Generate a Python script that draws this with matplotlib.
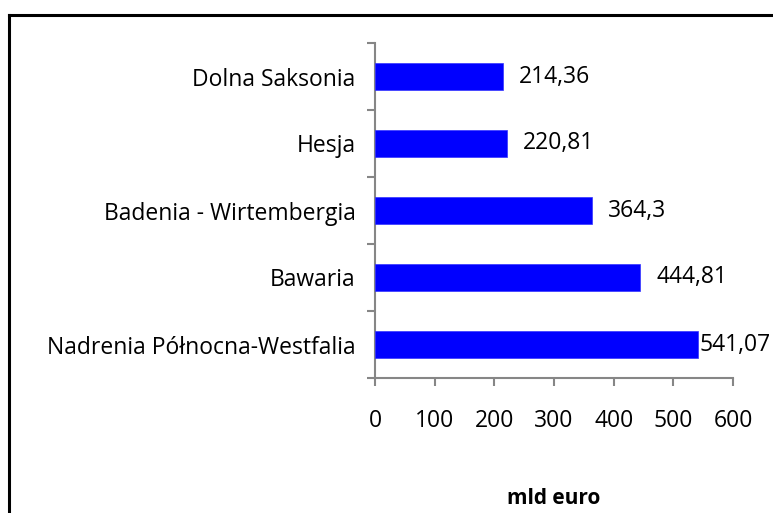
import matplotlib
matplotlib.use("Agg")
import matplotlib.pyplot as plt
from matplotlib.lines import Line2D
import numpy as np

categories = ["Nadrenia Północna-Westfalia", "Bawaria", "Badenia - Wirtembergia", "Hesja", "Dolna Saksonia"]
values = [541.07, 444.81, 364.3, 220.81, 214.36]
value_labels = ["541,07", "444,81", "364,3", "220,81", "214,36"]
xticks = [0, 100, 200, 300, 400, 500, 600]
xlabel = "mld euro"

plt.rcParams['font.family'] = ['Open Sans', 'DejaVu Sans']

W, H = 773, 513
fig = plt.figure(figsize=(W / 100, H / 100), dpi=100)
ax = fig.add_axes([375 / W, 1 - 378 / H, (733 - 375) / W, (378 - 43) / H])

y = np.arange(len(categories))
ax.barh(y, values, height=0.4, color="#0000FF", edgecolor="#3333FF", linewidth=0.5, zorder=3)

FS = 16.5
ax.set_xlim(0, 600)
ax.set_ylim(-0.5, len(categories) - 0.5)
ax.set_xticks(xticks)
ax.set_xticklabels([str(t) for t in xticks], fontsize=FS)
ax.set_yticks(y)
ax.set_yticklabels(categories, fontsize=FS)
ax.tick_params(axis='y', which='major', length=0, pad=14)
ax.set_yticks(np.arange(-0.5, len(categories), 1), minor=True)
ax.tick_params(axis='y', which='minor', length=6, width=1.5, color="#868686", direction='out')
ax.tick_params(axis='x', which='major', length=6, width=1.5, color="#868686", direction='out', pad=16)

for s in ["top", "right"]:
    ax.spines[s].set_visible(False)
for s in ["left", "bottom"]:
    ax.spines[s].set_color("#868686")
    ax.spines[s].set_linewidth(1.5)

offsets = [2, 16, 16, 16, 16]
for yi, v, lab, off in zip(y, values, value_labels, offsets):
    ax.annotate(lab, xy=(v, yi), xytext=(off, 0), textcoords="offset pixels",
                ha="left", va="center", fontsize=FS, color="black", annotation_clip=False)

ax.set_xlabel(xlabel, fontsize=15, fontweight="bold")
ax.xaxis.set_label_coords(0.5, -(498 - 378) / (378 - 43))
ax.xaxis.label.set_va("center")

# outer chart border (extends beyond the right and bottom edges)
fig.add_artist(Line2D([9 / W, 9 / W], [1 - 15 / H, -0.1], transform=fig.transFigure, color="black", linewidth=2.2))
fig.add_artist(Line2D([9 / W, 1.1], [1 - 15 / H, 1 - 15 / H], transform=fig.transFigure, color="black", linewidth=2.2))

fig.savefig("out.png", dpi=100)
